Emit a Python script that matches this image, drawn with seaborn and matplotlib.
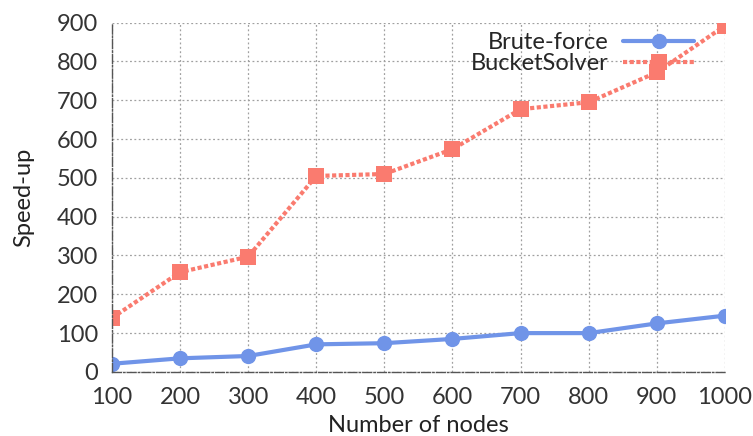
import matplotlib
matplotlib.use("Agg")
import matplotlib.pyplot as plt
import seaborn as sns
import pandas as pd

# data
nodes = [100, 200, 300, 400, 500, 600, 700, 800, 900, 1000]
brute_force = [21, 35, 41, 71, 74, 85, 100, 100, 125, 145]
bucket_solver = [139, 257, 297, 505, 510, 574, 677, 695, 772, 892]

df = pd.DataFrame({"nodes": nodes, "Brute-force": brute_force, "BucketSolver": bucket_solver})

sns.set_theme(style="white")
plt.rcParams['font.family'] = ['Lato', 'DejaVu Sans']

fig = plt.figure(figsize=(7.53, 4.36), dpi=100)
ax = fig.add_axes([0.1487, 0.147, 0.814, 0.801])

sns.lineplot(data=df, x="nodes", y="Brute-force", ax=ax, color="#7094e8", lw=3,
             marker="o", markersize=11, markeredgewidth=0, label="Brute-force")
sns.lineplot(data=df, x="nodes", y="BucketSolver", ax=ax, color="#fa7b6f", lw=3,
             linestyle=(0, (1, 0.6)), marker="s", markersize=11, markeredgewidth=0,
             label="BucketSolver")

ax.set_xlim(100, 1000)
ax.set_ylim(0, 900)
ax.set_xticks(nodes)
ax.set_yticks(range(0, 901, 100))
ax.grid(True, color="#a0a0a0", linestyle=(0, (1.5, 2)), linewidth=0.9)
for s in ["top", "right"]:
    ax.spines[s].set_visible(False)
for s in ["left", "bottom"]:
    ax.spines[s].set_color("#555555")
    ax.spines[s].set_linestyle("-.")
    ax.spines[s].set_linewidth(1)
ax.tick_params(axis="both", labelsize=17, colors="#333333", length=0)
ax.tick_params(axis="x", pad=11)
ax.tick_params(axis="y", pad=10)
ax.set_xlabel("Number of nodes", fontsize=17, color="#222222", labelpad=5)
ax.set_ylabel("Speed-up", fontsize=17, color="#222222", labelpad=16)

leg = ax.legend(loc="upper right", bbox_to_anchor=(0.965, 1.0), frameon=False, fontsize=17,
                markerfirst=False, handlelength=3.0, handletextpad=0.6,
                labelspacing=0.0, borderaxespad=0.0)

plt.savefig("out.png", dpi=100)
